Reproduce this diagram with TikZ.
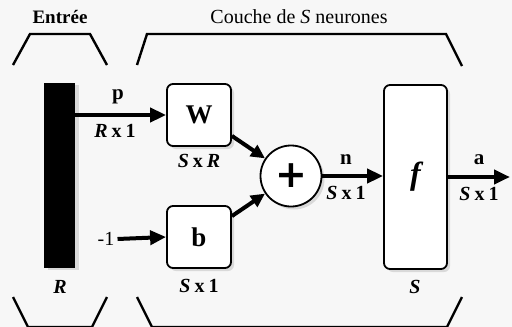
\documentclass[tikz,border=0pt]{standalone}
\usepackage{fontspec}
\setmainfont{Liberation Serif}
\newfontfamily\plusfont{DejaVu Sans}
\usetikzlibrary{arrows.meta,shadows}
\begin{document}
\begin{tikzpicture}[x=1pt,y=-1pt,
  bracket/.style={line width=2.4pt, line join=miter},
  blockbox/.style={draw, line width=1.8pt, rounded corners=6pt, fill=white,
    drop shadow={shadow xshift=3pt, shadow yshift=-3pt, opacity=0.25}},
  conn/.style={line width=4pt, -{Triangle[length=16pt,width=14pt]}},
  dimlbl/.style={font=\fontsize{20}{20}\selectfont\bfseries, inner sep=0pt},
  sym/.style={font=\fontsize{21}{21}\selectfont\bfseries, inner sep=0pt},
  head/.style={inner sep=0pt}]
\useasboundingbox[fill=black!3] (0,0) rectangle (512,327);
% headers
\node[head, font=\fontsize{19}{19}\selectfont\bfseries] (hin) at (60,17) {Entrée};
\node[head, font=\fontsize{20}{20}\selectfont] (hlay) at (299,17) {Couche de \textit{S} neurones};
% brackets top
\draw[bracket] (13,65) -- (30,34) -- (90,34) -- (107,65);
\draw[bracket] (137,65) -- (147,34) -- (446,34) -- (462,66);
% brackets bottom
\draw[bracket] (13,297) -- (28,327) -- (92,327) -- (107,297);
\draw[bracket] (137,297) -- (152,327) -- (447,327) -- (462,297);
% input bar
\node[fill=black, minimum width=31pt, minimum height=185pt, inner sep=0pt,
  drop shadow={shadow xshift=4pt, shadow yshift=-2pt, opacity=0.25}] (bar) at (59.5,175.5) {};
\node[dimlbl] (rlbl) at (60,287) {\textit{R}};
% blocks
\node[blockbox, minimum width=64pt, minimum height=62pt, inner sep=0pt,
  font=\fontsize{27}{27}\selectfont\bfseries] (W) at (199,115) {W};
\node[dimlbl] (wlbl) at (199,161) {\textit{S}\hspace{4pt}x\hspace{4pt}\textit{R}};
\node[blockbox, minimum width=64pt, minimum height=62pt, inner sep=0pt,
  font=\fontsize{27}{27}\selectfont\bfseries] (b) at (199,237) {b};
\node[dimlbl] (blbl) at (199,286) {\textit{S}\hspace{4pt}x\hspace{4pt}1};
\node[circle, draw, line width=1.8pt, fill=white, minimum size=61pt, inner sep=0pt,
  drop shadow={shadow xshift=3pt, shadow yshift=-3pt, opacity=0.25},
  font=\fontsize{38}{38}\selectfont\plusfont\bfseries] (sum) at (291,176) {+};
\node[blockbox, minimum width=63pt, minimum height=184pt, inner sep=0pt,
  font=\fontsize{32}{32}\selectfont\bfseries\itshape] (f) at (415.5,177) {f};
\node[dimlbl] (slbl) at (415,287) {\textit{S}};
% input labels
\node[sym] (plbl) at (118,97) {p};
\node[dimlbl] (pdim) at (115,131) {\textit{R}\hspace{4pt}x\hspace{4pt}1};
\node[inner sep=0pt, font=\fontsize{20}{20}\selectfont] (m1) at (106,239) {-1};
\node[sym] (nlbl) at (346,160) {n};
\node[dimlbl] (ndim) at (346,193) {\textit{S}\hspace{4pt}x\hspace{4pt}1};
\node[sym] (albl) at (479,160) {a};
\node[dimlbl] (adim) at (479,194) {\textit{S}\hspace{4pt}x\hspace{4pt}1};
\coordinate (out) at (510,177);
% connectors
\draw[conn] (bar.east |- W.west) -- (W.west);
\draw[conn] ([xshift=3pt]m1.east) -- (b.west);
\draw[conn, -{Triangle[length=14pt,width=13pt]}] ([yshift=11pt]W.south east) -- (sum);
\draw[conn, -{Triangle[length=14pt,width=13pt]}] ([yshift=-11pt]b.north east) -- (sum);
\draw[conn] (sum.east) -- (sum.east -| f.west);
\draw[conn] (f.east) -- (out);
\end{tikzpicture}
\end{document}
